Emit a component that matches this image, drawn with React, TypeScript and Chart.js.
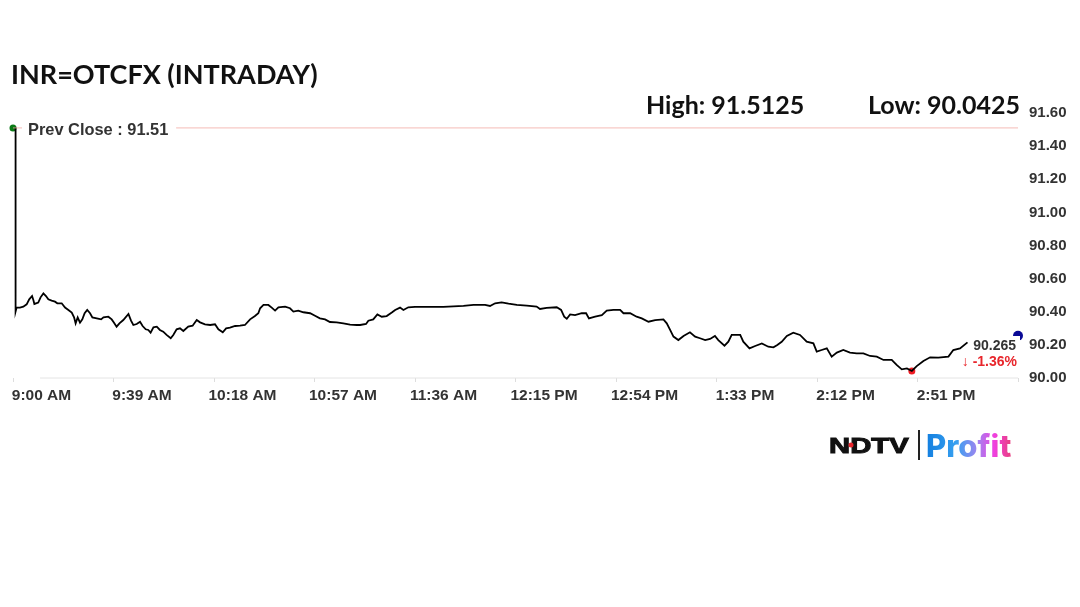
import React, { useEffect, useRef } from "react";
import { Chart, registerables } from "chart.js";

Chart.register(...registerables);

// minutes after 9:00 AM
const tradeMinutes = [
  1, 1, 1.4, 2.7, 4, 5.3, 6.3, 7.4, 7.9, 8.3, 9.8, 10.7, 11.8, 12.8, 13.7, 15, 16.3, 17.2, 18.9, 20.2,
  21.5, 22.8, 23.7, 24.3, 25.1, 26, 26.9, 27.8, 28.8, 29.9, 30.8, 32.5, 34.2, 35.1, 37, 38.3, 39.2, 40.2, 41.3, 42.8,
  44.8, 45.8, 46.7, 48, 49.3, 50.3, 51.5, 52.5, 53.4, 54.5, 55.8, 57, 58.3, 59.6, 61.2, 62.2, 63.5, 64.8, 66.1, 68,
  69.7, 71.3, 72.6, 74.5, 76.5, 78.4, 79.7, 81.4, 82.7, 84.2, 86.2, 88.1, 90, 92, 93.9, 95.2, 95.9, 97.2, 99.1, 100.4,
  101.7, 103, 105.6, 107.5, 108.8, 110.7, 112.7, 115.3, 117.2, 119.1, 121.1, 123, 125.6, 128.2, 130.8, 133.4, 134.7, 137, 137.9, 139.8,
  141.4, 143.1, 145, 147, 148.3, 150.2, 151.5, 153.4, 156, 159.2, 163.1, 167, 170.9, 174.8, 178.7, 183.2, 185.1, 187.1, 189.6, 192.3,
  195.5, 199.4, 203.2, 204.5, 207.1, 211, 212.7, 213.9, 214.9, 216.2, 218.1, 220.7, 222.4, 223.5, 225.9, 228.5, 230.4, 233, 235.6, 236.9,
  239.5, 242, 244, 246.6, 249.2, 252.4, 253.7, 255, 256.3, 258.2, 260.2, 262.7, 264.7, 266.6, 268.6, 270.5, 272.4, 273.7, 276.1, 277.6,
  278.9, 282.2, 283.4, 285.8, 288, 290.6, 293.1, 295.1, 296.6, 298.3, 300.3, 302.8, 305.4, 308, 310.6, 311.9, 313.8, 315.8, 317.7, 319.7,
  322.2, 324.8, 327.4, 330, 332.6, 335.2, 337.8, 341, 342.9, 344.9, 346.9, 348.8, 350.7, 353.3, 355.9, 359.1, 363, 364.9, 367.5, 370.4,
];

const tradeRates = [
  91.5125, 90.401, 90.425, 90.425, 90.431, 90.445, 90.475, 90.495, 90.471, 90.447, 90.455, 90.487, 90.511, 90.495, 90.475, 90.467, 90.461, 90.451, 90.451, 90.425,
  90.411, 90.395, 90.366, 90.33, 90.366, 90.334, 90.354, 90.391, 90.411, 90.391, 90.366, 90.36, 90.354, 90.366, 90.37, 90.354, 90.334, 90.31, 90.33, 90.35,
  90.387, 90.346, 90.32, 90.326, 90.34, 90.314, 90.294, 90.29, 90.274, 90.306, 90.31, 90.29, 90.28, 90.26, 90.24, 90.26, 90.294, 90.3, 90.284, 90.31,
  90.316, 90.35, 90.336, 90.324, 90.32, 90.324, 90.294, 90.276, 90.3, 90.304, 90.314, 90.316, 90.32, 90.354, 90.374, 90.391, 90.421, 90.441, 90.441, 90.425,
  90.407, 90.427, 90.431, 90.421, 90.401, 90.407, 90.397, 90.391, 90.376, 90.36, 90.354, 90.338, 90.336, 90.33, 90.322, 90.32, 90.32, 90.326, 90.346, 90.354,
  90.384, 90.37, 90.374, 90.395, 90.411, 90.425, 90.411, 90.427, 90.429, 90.429, 90.429, 90.429, 90.433, 90.435, 90.441, 90.441, 90.435, 90.451, 90.457, 90.449,
  90.441, 90.437, 90.431, 90.417, 90.423, 90.427, 90.411, 90.37, 90.358, 90.384, 90.38, 90.391, 90.391, 90.36, 90.37, 90.38, 90.407, 90.411, 90.411, 90.391,
  90.391, 90.37, 90.36, 90.34, 90.35, 90.354, 90.33, 90.29, 90.25, 90.229, 90.254, 90.276, 90.25, 90.24, 90.229, 90.236, 90.254, 90.229, 90.195, 90.219,
  90.26, 90.26, 90.219, 90.179, 90.193, 90.209, 90.189, 90.185, 90.199, 90.219, 90.254, 90.274, 90.26, 90.219, 90.209, 90.159, 90.169, 90.179, 90.129, 90.153,
  90.169, 90.153, 90.149, 90.149, 90.133, 90.129, 90.109, 90.109, 90.079, 90.052, 90.058, 90.0425, 90.072, 90.103, 90.125, 90.123, 90.129, 90.169, 90.179, 90.215,
];

const timeLabels = ["9:00 AM", "9:39 AM", "10:18 AM", "10:57 AM", "11:36 AM", "12:15 PM", "12:54 PM", "1:33 PM", "2:12 PM", "2:51 PM", ""];

const prevClose = 91.51;
const prevCloseMinutes = [0, 3.5, 30, 63.3, 390];
const prevCloseRates = [prevClose, prevClose, null, prevClose, prevClose];

const lowPoint = { x: 348.8, y: 90.0425 };
const lastDot = { x: 390, y: 90.255 };
const axisLineMinutes = [10.5, 390];

const titleText = "INR=OTCFX (INTRADAY)";
const highText = "High: 91.5125";
const lowText = "Low: 90.0425";
const prevCloseText = "Prev Close : 91.51";
const lastText = "90.265";
const changeText = "↓ -1.36%";

const overlayPlugin = {
  id: "overlayText",
  afterDatasetsDraw(chart: Chart) {
    const ctx = chart.ctx;
    ctx.save();
    ctx.textBaseline = "alphabetic";
    ctx.textAlign = "left";

    ctx.fillStyle = "#111";
    ctx.font = "bold 27px Lato";
    ctx.fillText(titleText, 11, 84);
    ctx.font = "bold 25px Lato";
    ctx.fillText(highText, 646, 114);
    ctx.fillText(lowText, 868, 114);

    ctx.fillStyle = "#333";
    ctx.font = "bold 16.4px 'Liberation Sans'";
    ctx.fillText(prevCloseText, 28, 134.5);

    // box behind the last price hides the lower half of the blue dot
    ctx.fillStyle = "#fff";
    ctx.fillRect(970, 336, 50, 36);
    ctx.textAlign = "right";
    ctx.fillStyle = "#333";
    ctx.font = "bold 14px 'Liberation Sans'";
    ctx.fillText(lastText, 1016, 350);
    ctx.fillStyle = "#e8262c";
    ctx.fillText(changeText, 1017, 366);

    // logo
    ctx.textAlign = "left";
    ctx.save();
    ctx.translate(829, 453);
    ctx.scale(1.33, 1);
    ctx.fillStyle = "#111";
    ctx.strokeStyle = "#111";
    ctx.lineWidth = 1;
    ctx.font = "bold 22px 'Liberation Sans'";
    ctx.fillText("NDTV", 0, 0);
    ctx.strokeText("NDTV", 0, 0);
    ctx.restore();
    ctx.fillStyle = "#e8262c";
    ctx.beginPath();
    ctx.arc(851, 445, 2.5, 0, Math.PI * 2);
    ctx.fill();
    ctx.fillStyle = "#222";
    ctx.fillRect(918, 430, 2, 30);
    const grad = ctx.createLinearGradient(927, 0, 1011, 0);
    grad.addColorStop(0, "#1480e0");
    grad.addColorStop(0.35, "#38a0f0");
    grad.addColorStop(0.6, "#a084f0");
    grad.addColorStop(0.8, "#f040e0");
    grad.addColorStop(1, "#e84080");
    ctx.fillStyle = grad;
    ctx.font = "800 31px Inter";
    ctx.fillText("Profit", 926, 457);
    ctx.restore();
  },
};

export default function App() {
  const canvasRef = useRef<HTMLCanvasElement | null>(null);

  useEffect(() => {
    if (!canvasRef.current) return;

    const chart = new Chart(canvasRef.current, {
      type: "line",
      data: {
        datasets: [
          {
            data: axisLineMinutes.map((x) => ({ x, y: 90 })),
            borderColor: "#e4e4e4",
            borderWidth: 1,
            pointRadius: 0,
            clip: false,
          },
          {
            data: prevCloseMinutes.map((x, i) => ({ x, y: prevCloseRates[i] })),
            borderColor: "#f3a9a4",
            borderWidth: 0.8,
            pointRadius: 0,
            spanGaps: false,
          },
          {
            data: tradeMinutes.map((x, i) => ({ x, y: tradeRates[i] })),
            borderColor: "#000",
            borderWidth: 1.8,
            pointRadius: 0,
            tension: 0,
          },
          {
            data: [{ x: 0, y: prevClose }],
            pointRadius: 3.5,
            pointBackgroundColor: "#0b7a16",
            pointBorderWidth: 0,
            clip: false,
          },
          {
            data: [lowPoint],
            pointRadius: 3.5,
            pointBackgroundColor: "#f01c24",
            pointBorderWidth: 0,
            clip: false,
          },
          {
            data: [lastDot],
            pointRadius: 5,
            pointBackgroundColor: "#0a0a96",
            pointBorderWidth: 0,
            clip: false,
          },
        ],
      },
      options: {
        responsive: false,
        animation: false,
        layout: { padding: { left: 13, right: 0, top: 113, bottom: 189 } },
        plugins: {
          legend: { display: false },
          tooltip: { enabled: false },
        },
        scales: {
          x: {
            type: "linear",
            min: 0,
            max: 390,
            afterFit: (scale) => {
              scale.height = 40;
              // the shifted labels must not push the plot area in
              scale.paddingLeft = 0;
              scale.paddingRight = 0;
            },
            border: { display: false },
            grid: { drawOnChartArea: false, color: "#dddddd", tickLength: 4 },
            ticks: {
              stepSize: 39,
              autoSkip: false,
              maxRotation: 0,
              labelOffset: 28.5,
              padding: 4,
              color: "#333",
              font: { family: "Liberation Sans", size: 15.5, weight: "bold" },
              callback: (value) => timeLabels[Number(value) / 39],
            },
          },
          y: {
            position: "right",
            min: 90,
            max: 91.6,
            afterFit: (scale) => {
              scale.width = 62;
            },
            border: { display: false },
            grid: { display: false, drawTicks: false },
            ticks: {
              stepSize: 0.2,
              padding: 11,
              color: "#333",
              font: { family: "Liberation Sans", size: 15, weight: "bold" },
              callback: (value) => Number(value).toFixed(2),
            },
          },
        },
      },
      plugins: [overlayPlugin],
    });

    return () => chart.destroy();
  }, []);

  return (
    <div style={{ position: "absolute", left: 0, top: 0, width: 1080, height: 607, background: "#fff" }}>
      <canvas ref={canvasRef} width={1080} height={607} />
    </div>
  );
}
